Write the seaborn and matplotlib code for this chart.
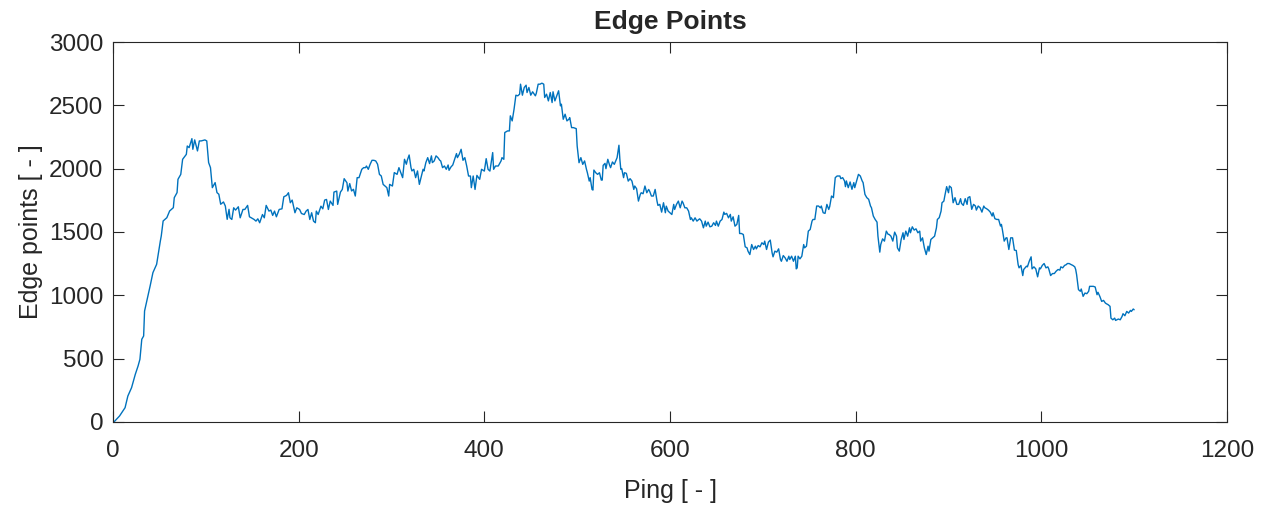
import matplotlib
matplotlib.use("Agg")
import matplotlib.pyplot as plt
import seaborn as sns
import pandas as pd

# Edge point count per ping
ping = [
    1, 7, 13, 16, 20, 24, 27, 29, 31, 33, 34, 36, 40, 43, 47, 49, 51, 52, 54, 58,
    61, 65, 66, 69, 70, 73, 75, 79, 80, 82, 85, 86, 88, 91, 93, 95, 99, 101, 103, 105,
    107, 109, 110, 112, 114, 116, 119, 121, 123, 125,
    126, 128, 130, 132, 135, 137, 140, 142, 145, 147, 149, 152, 154, 156, 158, 161, 163, 165, 168, 170,
    172, 174, 176, 179, 182, 184, 187, 189, 191, 193, 196, 198, 201, 203, 206, 208, 210, 212, 214, 216,
    218, 219, 221, 224, 226, 228, 230, 232, 234, 237, 238, 241, 242, 245, 247, 249, 252, 253,
    255, 257, 259, 261, 263, 265, 268, 270, 272, 273, 275, 277, 279, 281, 283, 285, 287, 289, 291, 293,
    295, 297, 298, 301, 303, 306, 308, 310, 312, 314, 316, 317, 319, 321, 322, 324, 326, 328, 330, 332,
    334, 335, 337, 339, 341, 343, 344, 346, 348, 350, 352, 353, 355, 357, 359, 361, 362, 364, 366, 368,
    370, 371, 373, 375, 377, 379, 381, 383,
    385, 386, 388, 390, 392, 395, 397, 400, 402, 404, 406, 409, 410, 412, 415, 418, 419, 421, 422, 425,
    427, 428, 430, 432, 434, 436, 438, 439, 441, 443, 445, 446, 448, 450, 452, 455, 456, 458, 460, 462,
    464, 465, 467, 469, 471, 473, 474, 476, 478, 480, 482, 483, 485, 487, 489, 491, 492, 494, 496, 499,
    500, 502, 504, 506, 508, 510, 511, 513,
    514, 516, 517, 518, 520, 522, 524, 526, 527, 528, 530, 531, 533, 535, 536, 538, 540, 542, 543, 545,
    546, 547, 548, 550, 551, 553, 555, 557, 559, 561, 562, 564, 566, 568, 569, 571, 573, 575, 577, 578,
    580, 582, 584, 586, 587, 589, 591, 593, 595, 596, 598, 600, 602, 604, 605, 607, 609, 611, 613, 614,
    616, 618, 620, 622, 623, 625, 627, 629, 631, 632, 634, 636, 638, 639, 641, 643,
    645, 647, 649, 650, 652, 654, 656, 658, 659, 661, 663, 665, 666, 668, 670, 672, 674, 675, 677, 679,
    681, 683, 684, 686, 688, 690, 692, 693, 695, 697, 699, 701, 702, 704, 706, 708, 710, 711, 713, 715,
    717, 719, 720, 722, 724, 726, 728, 729, 731, 733, 735, 736, 737, 738, 740, 742, 744, 745, 747, 749,
    751, 753, 754, 756, 758, 760, 762, 763, 765, 767, 769, 771,
    772, 774, 776, 778, 780, 783, 784, 786, 788, 789, 790, 792, 794, 796, 798, 799, 801, 803, 805, 807,
    808, 810, 812, 814, 816, 817, 819, 821, 823, 824, 826, 827, 829, 831, 833, 835, 836, 838, 840, 842,
    844, 845, 847, 849, 851, 852, 854, 856, 858, 859, 861, 863, 865, 867, 869, 870, 872, 874, 876, 878,
    879, 881, 883, 885, 887, 888, 890, 892, 893, 895, 896, 898, 900, 901,
    903, 905, 907, 909, 911, 913, 914, 916, 918, 920, 921, 923, 925, 927, 929, 930, 932, 934, 936, 938,
    939, 941, 943, 945, 947, 948, 950, 952, 954, 956, 957, 958, 960, 962, 963, 965, 967, 969, 971, 973,
    975, 976, 978, 980, 981, 984, 985, 987, 989, 990, 992, 994, 996, 998, 999, 1001, 1003, 1005, 1007, 1008,
    1010, 1012, 1014, 1016, 1018, 1020, 1021, 1023, 1025, 1027, 1028, 1030, 1032, 1034, 1036,
    1037, 1038, 1040, 1042, 1043, 1045, 1047, 1049, 1051, 1052, 1056, 1058, 1060, 1061, 1063, 1065, 1067, 1069, 1070, 1072,
    1074, 1075, 1077, 1079, 1080, 1083, 1085, 1087, 1088, 1090, 1092, 1094, 1096, 1097, 1099, 1100,
]

edge_points = [
    0, 47, 113, 205, 271, 376, 442, 495, 653, 679, 876, 942, 1074, 1179, 1245, 1337, 1429, 1469, 1587, 1613,
    1666, 1692, 1771, 1811, 1916, 1955, 2074, 2113, 2179, 2166, 2237, 2153, 2227, 2140, 2219, 2219, 2227, 2219, 2048, 2008,
    1850, 1876, 1890, 1811, 1798, 1719, 1737, 1705, 1600, 1679,
    1612, 1599, 1691, 1673, 1699, 1612, 1678, 1678, 1710, 1620, 1612, 1599, 1586, 1604, 1573, 1638, 1612, 1710, 1665, 1673,
    1631, 1665, 1620, 1678, 1683, 1778, 1789, 1810, 1731, 1752, 1652, 1691, 1678, 1646, 1638, 1665, 1678, 1599, 1652, 1586,
    1573, 1665, 1638, 1704, 1683, 1752, 1757, 1678, 1744, 1710, 1815, 1823, 1718, 1815, 1836, 1921, 1889, 1823,
    1882, 1824, 1837, 1784, 1929, 1929, 1995, 2008, 2008, 2021, 1995, 2035, 2066, 2066, 2061, 2035, 1955, 1942, 1876, 1863,
    1850, 1784, 1876, 1863, 1969, 1955, 2008, 1969, 1929, 2074, 2035, 2066, 2108, 2008, 1982, 1995, 1929, 1982, 1876, 1934,
    1995, 1982, 2048, 2087, 2040, 2101, 2048, 2061, 2101, 2087, 2066, 2061, 2008, 2021, 1995, 2029, 1987, 2013, 2029, 2074,
    2119, 2087, 2114, 2153, 2066, 2087, 2021, 1942,
    1942, 1850, 1942, 1836, 1947, 1916, 1995, 1981, 2079, 1995, 1981, 2127, 1995, 2021, 2021, 2061, 2087, 2074, 2285, 2298,
    2298, 2417, 2377, 2469, 2580, 2575, 2588, 2667, 2580, 2641, 2659, 2601, 2641, 2580, 2607, 2575, 2596, 2667, 2667, 2675,
    2667, 2562, 2588, 2535, 2601, 2522, 2607, 2535, 2575, 2615, 2496, 2509, 2390, 2430, 2377, 2390, 2403, 2324, 2324, 2316,
    2179, 2047, 2087, 2034, 2061, 1995, 1968, 1902,
    1929, 1836, 1831, 1989, 1968, 1955, 1968, 1910, 1910, 2026, 2042, 2000, 2074, 2026, 2008, 2053, 2034, 2068, 2087, 2185,
    2074, 1995, 2000, 1929, 1968, 1963, 1902, 1921, 1902, 1836, 1863, 1842, 1744, 1797, 1810, 1802, 1863, 1810, 1836, 1823,
    1784, 1784, 1836, 1744, 1710, 1718, 1657, 1731, 1652, 1704, 1665, 1652, 1638, 1718, 1678, 1718, 1744, 1691, 1744, 1731,
    1691, 1691, 1665, 1599, 1612, 1586, 1612, 1586, 1599, 1604, 1586, 1533, 1586, 1546, 1578, 1541,
    1546, 1573, 1552, 1586, 1546, 1586, 1599, 1657, 1639, 1647, 1612, 1639, 1586, 1620, 1546, 1560, 1631, 1488, 1488, 1480,
    1383, 1375, 1349, 1322, 1401, 1362, 1388, 1367, 1393, 1383, 1415, 1401, 1428, 1362, 1420, 1436, 1335, 1304, 1349, 1341,
    1367, 1283, 1269, 1314, 1296, 1269, 1309, 1283, 1309, 1269, 1309, 1209, 1217, 1309, 1288, 1309, 1401, 1375, 1388, 1507,
    1520, 1586, 1599, 1599, 1705, 1705, 1691, 1705, 1652, 1647, 1718, 1678,
    1700, 1784, 1771, 1929, 1942, 1942, 1921, 1929, 1903, 1858, 1903, 1850, 1895, 1837, 1890, 1850, 1903, 1955, 1942, 1903,
    1890, 1797, 1771, 1758, 1705, 1692, 1626, 1599, 1578, 1467, 1341, 1401, 1446, 1428, 1507, 1481, 1481, 1467, 1428, 1499,
    1467, 1375, 1349, 1441, 1494, 1441, 1507, 1467, 1533, 1494, 1541, 1515, 1525, 1494, 1507, 1428, 1454, 1375, 1322, 1388,
    1349, 1441, 1454, 1467, 1533, 1599, 1613, 1665, 1731, 1744, 1784, 1858, 1810, 1863,
    1850, 1731, 1771, 1718, 1718, 1763, 1726, 1710, 1763, 1718, 1771, 1779, 1679, 1718, 1705, 1673, 1705, 1692, 1657, 1705,
    1692, 1684, 1673, 1657, 1626, 1652, 1605, 1599, 1599, 1547, 1560, 1520, 1428, 1454, 1454, 1362, 1454, 1454, 1357, 1354,
    1243, 1217, 1236, 1156, 1204, 1230, 1225, 1270, 1304, 1209, 1225, 1209, 1146, 1217, 1209, 1236, 1251, 1217, 1225, 1209,
    1156, 1172, 1172, 1191, 1204, 1199, 1225, 1217, 1236, 1243, 1251, 1251, 1243, 1236, 1225,
    1204, 1163, 1045, 1032, 1050, 992, 1018, 1013, 1032, 1071, 1071, 1066, 1005, 1024, 992, 952, 960, 939, 934, 926,
    913, 820, 807, 820, 802, 813, 807, 834, 855, 839, 873, 860, 881, 873, 892, 886,
]

x_ticks = [0, 200, 400, 600, 800, 1000, 1200]
y_ticks = [0, 500, 1000, 1500, 2000, 2500, 3000]

sns.set_style("white")
plt.rcParams["font.family"] = ["Liberation Sans", "DejaVu Sans"]
plt.rcParams["text.color"] = "#262626"
plt.rcParams["axes.labelcolor"] = "#262626"
plt.rcParams["xtick.color"] = "#262626"
plt.rcParams["ytick.color"] = "#262626"

df = pd.DataFrame({"Ping": ping, "Edge points": edge_points})

fig = plt.figure(figsize=(12.68, 5.08), dpi=100)
ax = fig.add_axes([113 / 1268, 1 - 422 / 508, (1227 - 113) / 1268, (422 - 42) / 508])

sns.lineplot(data=df, x="Ping", y="Edge points", ax=ax, color="#0072BD",
             linewidth=1.0, estimator=None, sort=False)

ax.set_xlim(0, 1200)
ax.set_ylim(0, 3000)
ax.set_xticks(x_ticks)
ax.set_yticks(y_ticks)
ax.tick_params(direction="in", length=8, width=0.8, labelsize=17.5,
               top=True, right=True, bottom=True, left=True)
ax.tick_params(axis="x", pad=13)
ax.tick_params(axis="y", pad=7)
for side in ax.spines.values():
    side.set_visible(True)
    side.set_color("#262626")
    side.set_linewidth(0.8)

ax.set_xlabel("Ping [ - ]", fontsize=18, labelpad=12)
ax.set_ylabel("Edge points [ - ]", fontsize=18, labelpad=4)
ax.set_title("Edge Points", fontsize=19, fontweight="bold", pad=9)

fig.savefig("out.png", dpi=100)
